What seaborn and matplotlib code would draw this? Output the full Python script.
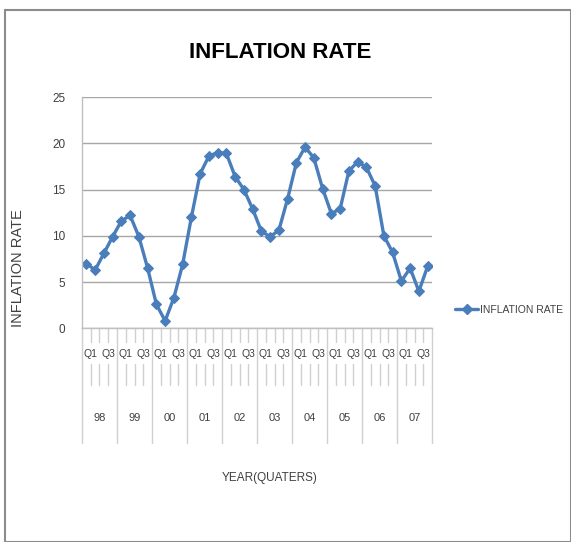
import matplotlib
matplotlib.use("Agg")
import matplotlib.pyplot as plt
import matplotlib.transforms as mtransforms
from matplotlib.patches import Rectangle
from matplotlib.lines import Line2D
import seaborn as sns
import pandas as pd
import numpy as np

years = ["98", "99", "00", "01", "02", "03", "04", "05", "06", "07"]
quarters = ["Q1", "Q2", "Q3", "Q4"]
inflation = [7.0, 6.3, 8.1, 9.9, 11.6, 12.2, 9.9, 6.5,
             2.6, 0.8, 3.3, 6.9, 12.0, 16.7, 18.6, 19.0,
             18.9, 16.4, 15.0, 12.9, 10.5, 9.9, 10.6, 14.0,
             17.9, 19.6, 18.4, 15.1, 12.4, 12.9, 17.0, 18.0,
             17.4, 15.4, 10.0, 8.2, 5.1, 6.5, 4.0, 6.7]
y_ticks = [0, 5, 10, 15, 20, 25]

sns.set_theme(style="white")
plt.rcParams["font.family"] = ["Liberation Sans Narrow", "Liberation Sans", "DejaVu Sans"]

df = pd.DataFrame({
    "idx": np.arange(len(inflation)),
    "year": [y for y in years for _ in quarters],
    "quarter": [q for _ in years for q in quarters],
    "INFLATION RATE": inflation,
})

W, H = 571, 542
fig = plt.figure(figsize=(W / 100, H / 100), dpi=100)
ax = fig.add_axes([82 / W, 1 - 328.3 / H, 350 / W, (328.3 - 97) / H])

blue = "#4A7EBB"
sns.lineplot(data=df, x="idx", y="INFLATION RATE", ax=ax, color=blue,
             linewidth=2.4, marker="D", markersize=5.5, markeredgecolor=blue,
             markerfacecolor=blue, legend=False)

ax.set_xlim(-0.5, len(inflation) - 0.5)
ax.set_ylim(0, 25)
ax.set_yticks(y_ticks)
ax.set_yticklabels([str(v) for v in y_ticks], fontsize=8.5, color="#404040")
ax.yaxis.grid(True, color="#a6a6a6", linewidth=1)
ax.xaxis.grid(False)
for s in ["top", "right"]:
    ax.spines[s].set_visible(False)
ax.spines["left"].set_color("#bfbfbf")
ax.spines["bottom"].set_color("#bfbfbf")
ax.spines["bottom"].set_linewidth(1)
ax.spines["left"].set_linewidth(1)
ax.tick_params(axis="y", length=0, pad=12)
ax.set_xticks([])
ax.set_xlabel("")
ax.set_ylabel("")

# multi-level category axis (quarters / years)
trans = mtransforms.blended_transform_factory(ax.transData, ax.transAxes)
px = 1 / (328.3 - 97)  # one pixel in axes fraction
n = len(inflation)
for b in range(n + 1):
    xb = b - 0.5
    if b % 4 == 0:
        ax.add_line(Line2D([xb, xb], [0, -115 * px], transform=trans,
                           color="#d0d0d0", linewidth=1, clip_on=False))
    else:
        ax.add_line(Line2D([xb, xb], [0, -14 * px], transform=trans,
                           color="#d0d0d0", linewidth=1, clip_on=False))
        ax.add_line(Line2D([xb, xb], [-36 * px, -57 * px], transform=trans,
                           color="#d0d0d0", linewidth=1, clip_on=False))
for i, (q, y) in enumerate(zip(df["quarter"], df["year"])):
    if q in ("Q1", "Q3"):
        ax.text(i + 0.5, -26 * px, q, transform=trans, ha="center", va="center",
                fontsize=7.5, color="#404040")
for k, y in enumerate(years):
    ax.text(4 * k + 1.5, -90 * px, y, transform=trans, ha="center", va="center",
            fontsize=8, color="#404040")

fig.text(280 / W, 1 - 53 / H, "INFLATION RATE", ha="center", va="center",
         fontsize=16, fontweight="bold", color="#000000")
fig.text(18 / W, 1 - 268 / H, "INFLATION RATE", ha="center", va="center",
         rotation=90, fontsize=10.5, color="#404040")
fig.text(270 / W, 1 - 478 / H, "YEAR(QUATERS)", ha="center", va="center",
         fontsize=8.5, color="#404040")

# legend
leg_handle = Line2D([], [], color=blue, linewidth=2.4, marker="D", markersize=5.5)
fig.legend([leg_handle], ["INFLATION RATE"], loc="center left",
           bbox_to_anchor=(446 / W, 1 - 310 / H), frameon=False, fontsize=7.5,
           handlelength=2.2, handletextpad=0.2, labelcolor="#404040")

fig.patches.append(Rectangle((5 / W, 0), 1 - 5 / W, 1 - 10 / H,
                             transform=fig.transFigure, fill=False,
                             edgecolor="#8c8c8c", linewidth=1.5))

fig.savefig("out.png", dpi=100)
